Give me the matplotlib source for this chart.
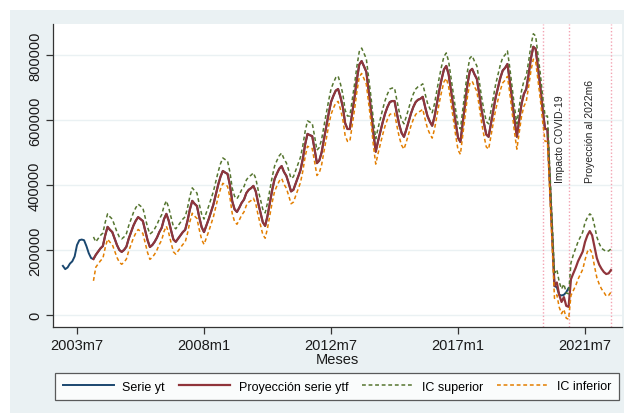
import matplotlib
matplotlib.use('Agg')
import matplotlib.pyplot as plt
from matplotlib import font_manager
from matplotlib.patches import Rectangle
import numpy as np

names = {f.name for f in font_manager.fontManager.ttflist}
BASE = 'Liberation Sans' if 'Liberation Sans' in names else 'DejaVu Sans'
NARROW = 'Liberation Sans Narrow' if 'Liberation Sans Narrow' in names else BASE
plt.rcParams['font.family'] = [BASE, 'DejaVu Sans']


def stata_month(s):
    y, m = s.split('m')
    return (int(y) - 1960) * 12 + int(m) - 1


# ---------------- data (values in thousands) ----------------
yt_start = '2003m1'
yt = [151, 141, 146, 158, 165, 180, 215, 230, 232, 230, 212, 190,
      175, 172, 185, 195, 205, 212, 245, 271, 262, 255, 235, 215,
      200, 194, 200, 210, 235, 255, 275, 290, 301, 295, 289, 260,
      230, 209, 215, 225, 238, 255, 268, 295, 311, 290, 260, 232,
      225, 235, 245, 255, 262, 290, 325, 351, 342, 335, 300, 270,
      255, 275, 295, 318, 340, 370, 400, 425, 443, 438, 434, 400,
      350, 325, 317, 330, 345, 355, 375, 385, 390, 397, 380, 345,
      315, 285, 274, 305, 345, 385, 418, 435, 450, 458, 440, 428,
      405, 380, 385, 405, 425, 445, 480, 525, 557, 553, 550, 510,
      467, 475, 500, 541, 580, 620, 655, 674, 690, 695, 671, 640,
      590, 572, 572, 620, 670, 725, 770, 781, 765, 748, 690, 630,
      560, 502, 535, 565, 594, 620, 640, 655, 658, 658, 620, 585,
      560, 548, 570, 595, 620, 640, 655, 662, 665, 671, 640, 612,
      595, 582, 610, 650, 690, 725, 755, 766, 740, 690, 640, 590,
      545, 532, 590, 650, 710, 750, 757, 740, 726, 680, 630, 590,
      555, 548, 590, 630, 670, 700, 730, 752, 760, 772, 720, 660,
      600, 548, 600, 650, 680, 695, 740, 790, 825, 818, 760, 700,
      630, 572, 572, 410, 250, 89, 85, 62, 60, 62, 70, 83]

ytf_start = '2004m2'
ytf = [172, 185, 195, 205, 212, 245, 271, 262, 255, 235, 215,
       200, 194, 200, 210, 235, 255, 275, 290, 301, 295, 289, 260,
       230, 209, 215, 225, 238, 255, 268, 295, 311, 290, 260, 232,
       225, 235, 245, 255, 262, 290, 325, 351, 342, 335, 300, 270,
       255, 275, 295, 318, 340, 370, 400, 425, 443, 438, 434, 400,
       350, 325, 317, 330, 345, 355, 375, 385, 390, 397, 380, 345,
       315, 285, 274, 305, 345, 385, 418, 435, 450, 458, 440, 428,
       405, 380, 385, 405, 425, 445, 480, 525, 557, 553, 550, 510,
       467, 475, 500, 541, 580, 620, 655, 674, 690, 695, 671, 640,
       590, 572, 572, 620, 670, 725, 770, 781, 765, 748, 690, 630,
       560, 502, 535, 565, 594, 620, 640, 655, 658, 658, 620, 585,
       560, 548, 570, 595, 620, 640, 655, 662, 665, 671, 640, 612,
       595, 582, 610, 650, 690, 725, 755, 766, 740, 690, 640, 590,
       545, 532, 590, 650, 710, 750, 757, 740, 726, 680, 630, 590,
       555, 548, 590, 630, 670, 700, 730, 752, 760, 772, 720, 660,
       600, 548, 600, 650, 680, 695, 740, 790, 825, 818, 760, 700,
       630, 572, 572, 410, 250, 89, 100, 62, 40, 55, 28, 25,
       110, 128, 145, 165, 180, 195, 225, 245, 258, 245, 210, 175,
       155, 142, 132, 126, 128, 138]

ic_sup = [240, 225, 235, 245, 252, 285, 311, 302, 295, 275, 255,
          240, 234, 240, 250, 275, 295, 315, 330, 341, 335, 329, 300,
          270, 249, 255, 265, 278, 295, 308, 335, 351, 330, 300, 272,
          265, 275, 285, 295, 302, 330, 365, 391, 382, 375, 340, 310,
          295, 315, 335, 358, 380, 410, 440, 465, 483, 478, 474, 440,
          390, 365, 357, 370, 385, 395, 415, 425, 430, 437, 420, 385,
          355, 325, 314, 345, 385, 425, 458, 475, 490, 498, 480, 468,
          445, 420, 425, 445, 465, 485, 520, 565, 597, 593, 590, 550,
          507, 515, 540, 581, 620, 660, 695, 714, 730, 735, 711, 680,
          630, 612, 612, 660, 710, 765, 810, 821, 805, 788, 730, 670,
          600, 542, 575, 605, 634, 660, 680, 695, 698, 698, 660, 625,
          600, 588, 610, 635, 660, 680, 695, 702, 705, 711, 680, 652,
          635, 622, 650, 690, 730, 765, 795, 806, 780, 730, 680, 630,
          585, 572, 630, 690, 750, 790, 797, 780, 766, 720, 670, 630,
          595, 588, 630, 670, 710, 740, 770, 792, 800, 812, 760, 700,
          640, 588, 640, 690, 720, 735, 780, 830, 865, 858, 800, 740,
          670, 612, 612, 450, 290, 129, 140, 102, 80, 95, 68, 65,
          160, 185, 205, 225, 240, 255, 285, 300, 311, 305, 275, 240,
          220, 205, 200, 195, 197, 203]

ic_inf = [105, 147, 157, 167, 174, 207, 233, 224, 217, 197, 177,
          162, 156, 162, 172, 197, 217, 237, 252, 263, 257, 251, 222,
          192, 171, 177, 187, 200, 217, 230, 257, 273, 252, 222, 194,
          187, 197, 207, 217, 224, 252, 287, 313, 304, 297, 262, 232,
          217, 237, 257, 280, 302, 332, 362, 387, 405, 400, 396, 362,
          312, 287, 279, 292, 307, 317, 337, 347, 352, 359, 342, 307,
          277, 247, 236, 267, 307, 347, 380, 397, 412, 420, 402, 390,
          367, 342, 347, 367, 387, 407, 442, 487, 519, 515, 512, 472,
          429, 437, 462, 503, 542, 582, 617, 636, 652, 657, 633, 602,
          552, 534, 534, 582, 632, 687, 732, 743, 727, 710, 652, 592,
          522, 464, 497, 527, 556, 582, 602, 617, 620, 620, 582, 547,
          522, 510, 532, 557, 582, 602, 617, 624, 627, 633, 602, 574,
          557, 544, 572, 612, 652, 687, 717, 728, 702, 652, 602, 552,
          507, 494, 552, 612, 672, 712, 719, 702, 688, 642, 592, 552,
          517, 510, 552, 592, 632, 662, 692, 714, 722, 734, 682, 622,
          562, 510, 562, 612, 642, 657, 702, 752, 787, 780, 722, 662,
          592, 534, 534, 372, 212, 51, 62, 24, 4, 17, -10, -13,
          60, 75, 90, 110, 125, 140, 170, 195, 203, 190, 150, 115,
          95, 80, 70, 58, 60, 70]

x_tick_labels = ['2003m7', '2008m1', '2012m7', '2017m1', '2021m7']
y_ticks = [0, 200000, 400000, 600000, 800000]
event_months = ['2020m1', '2020m12', '2022m6']
event_texts = ['Impacto COVID-19', 'Proyección al 2022m6']
legend_labels = ['Serie yt', 'Proyección serie ytf', 'IC superior', 'IC inferior']

# ---------------- figure ----------------
W, H = 624, 414
fig = plt.figure(figsize=(W / 100, H / 100), dpi=100, facecolor='white')
fig.patches.append(Rectangle((10 / W, 0), 1, 1 - 11 / H, transform=fig.transFigure,
                             facecolor='#eaf1f3', edgecolor='none', zorder=-10))

ax = fig.add_axes([53 / W, 1 - 328 / H, (622 - 53) / W, (328 - 25) / H])
ax.set_zorder(2)
ax.set_facecolor('white')

x_yt = np.arange(len(yt)) + stata_month(yt_start)
x_f = np.arange(len(ytf)) + stata_month(ytf_start)
k = 1000.0

for xm in event_months:
    ax.axvline(stata_month(xm), color='#f3a3b2', lw=1.0, ls=(0, (1.0, 1.5)), zorder=1)

ax.plot(x_yt, np.array(yt) * k, color='#1a476f', lw=1.4, zorder=3, label=legend_labels[0])
ax.plot(x_f, np.array(ytf) * k, color='#90353b', lw=1.6, zorder=4, label=legend_labels[1])
ax.plot(x_f, np.array(ic_sup) * k, color='#55752f', lw=1.1, ls=(0, (2.5, 1.8)), zorder=5,
        label=legend_labels[2])
ax.plot(x_f, np.array(ic_inf) * k, color='#e37e00', lw=1.1, ls=(0, (2.5, 1.8)), zorder=5,
        label=legend_labels[3])

ax.text(727.3, 409000, event_texts[0], rotation=90, ha='center', va='bottom',
        fontsize=7.5, family=[NARROW, 'DejaVu Sans'], color='#222222')
ax.text(740.2, 409000, event_texts[1], rotation=90, ha='center', va='bottom',
        fontsize=7.5, family=[NARROW, 'DejaVu Sans'], color='#222222')

ax.set_xlim(511.8, 753.7)
ax.set_ylim(-37000, 895000)
ax.set_xticks([stata_month(s) for s in x_tick_labels])
ax.set_xticklabels(x_tick_labels, fontsize=10.5)
ax.set_yticks(y_ticks)
ax.set_yticklabels([str(v) for v in y_ticks], fontsize=10.5, rotation=90, va='center')
ax.yaxis.grid(True, color='#eaf1f3', lw=1.0, zorder=0)
ax.set_axisbelow(True)
ax.tick_params(axis='both', direction='out', length=5, width=0.9, color='#333333',
               labelcolor='#1a1a1a', pad=3)
for s in ['top', 'right']:
    ax.spines[s].set_visible(False)
for s in ['left', 'bottom']:
    ax.spines[s].set_color('#333333')
    ax.spines[s].set_linewidth(0.9)
ax.set_xlabel('Meses', fontsize=10.5, labelpad=0, color='#1a1a1a')

leg = fig.legend(loc='center', bbox_to_anchor=(337 / W, 1 - 387.5 / H), ncol=4,
                 fontsize=9, frameon=True, fancybox=False, handlelength=4.1,
                 handletextpad=0.7, columnspacing=1.1, borderpad=0.6)
leg.get_frame().set_edgecolor('#333333')
leg.get_frame().set_linewidth(0.9)
leg.get_frame().set_facecolor('white')

fig.savefig('out.png', dpi=100, facecolor='white')
